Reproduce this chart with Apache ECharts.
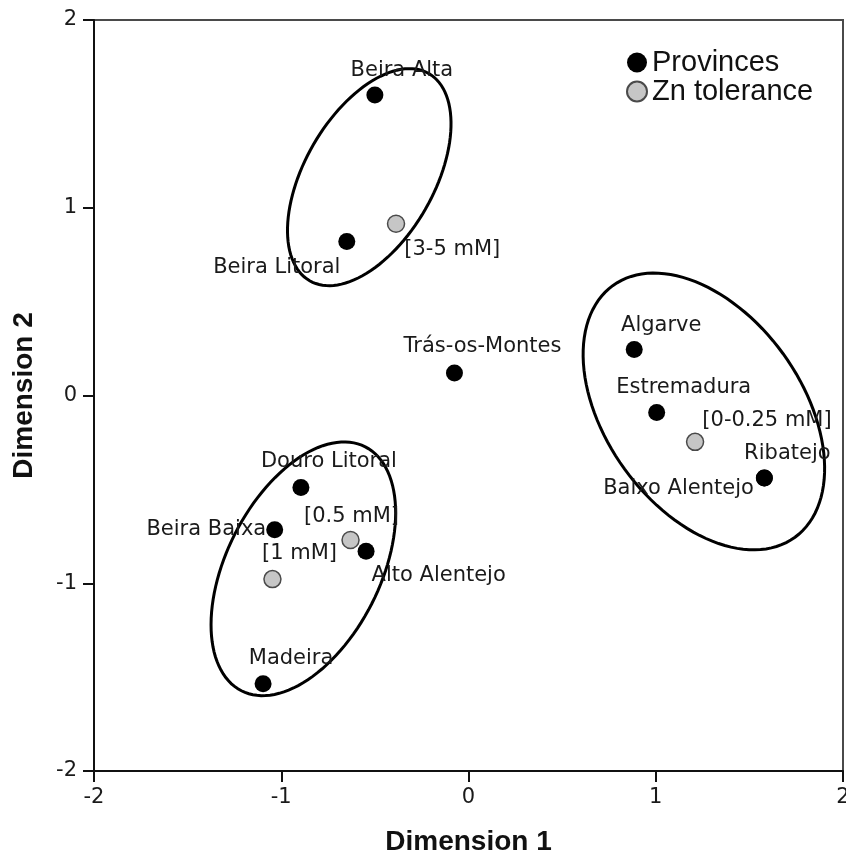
<!DOCTYPE html>
<html>
<head>
<meta charset="utf-8">
<script src="https://cdn.jsdelivr.net/npm/echarts@6/dist/echarts.min.js"></script>
<style>
  html, body { margin: 0; padding: 0; background: #fff; }
  #chart-container { width: 846px; height: 858px; }
</style>
</head>
<body>
<div id="chart-container"></div>
<script>
// provinces (black dots)
const provNames = ['Beira Alta', 'Beira Litoral', 'Trás-os-Montes', 'Algarve', 'Estremadura',
    'Ribatejo', 'Baixo Alentejo', 'Douro Litoral', 'Beira Baixa', 'Alto Alentejo', 'Madeira'];
const provX = [-0.50, -0.65, -0.075, 0.885, 1.005, 1.58, 1.58, -0.895, -1.035, -0.547, -1.097];
const provY = [1.60, 0.82, 0.12, 0.245, -0.09, -0.44, -0.44, -0.49, -0.715, -0.83, -1.535];

// Zn tolerance classes (grey dots)
const znNames = ['[3-5 mM]', '[0-0.25 mM]', '[0.5 mM]', '[1 mM]'];
const znX = [-0.387, 1.21, -0.63, -1.047];
const znY = [0.915, -0.247, -0.77, -0.978];

// group ellipses: centre x, centre y, semi axis a, semi axis b, angle (deg)
const ellCx = [-0.53, -0.882, 1.257];
const ellCy = [1.163, -0.923, -0.085];
const ellA = [0.637, 0.729, 0.828];
const ellB = [0.345, 0.41, 0.523];
const ellAngle = [60, 63, -54];

const axisTicks = [-2, -1, 0, 1, 2];

// label placement for each point (kept apart from the values)
const provLabelPos = [
    ['top', [27, -1]], ['bottom', [-70, 2]], ['top', [28, -2]], ['top', [27, 0]], ['top', [27, -1]],
    ['top', [23, -1]], ['left', [3, 10]], ['top', [28, -2]], ['left', [5, 0]], ['right', [-8, 24]],
    ['top', [28, -1]]
];
const znLabelPos = [['right', [-6, 26]], ['right', [-7, -21]], ['top', [1, 1]], ['top', [27, -1]]];

const labelFont = {fontFamily: 'DejaVu Sans', fontSize: 21, color: '#1a1a1a'};

function buildPoints(names, xs, ys, pos) {
    return names.map((n, i) => ({
        name: n,
        value: [xs[i], ys[i]],
        label: {position: pos[i][0], offset: pos[i][1]}
    }));
}

const chartDom = document.getElementById('chart-container');
const myChart = echarts.init(chartDom, null, {renderer: 'canvas'});

const option = {
    backgroundColor: '#fff',
    animation: false,
    grid: {
        left: 94, right: 3, top: 20, bottom: 87,
        show: true, borderColor: '#4a4a4a', borderWidth: 2,
        containLabel: false, outerBoundsMode: 'none'
    },
    legend: {
        data: ['Provinces', 'Zn tolerance'],
        orient: 'vertical',
        left: 621, top: 43,
        itemWidth: 20, itemHeight: 20, itemGap: 0,
        icon: 'circle',
        textStyle: {fontFamily: 'Liberation Sans', fontSize: 29, lineHeight: 28, color: '#111'}
    },
    xAxis: {
        type: 'value', min: -2, max: 2, interval: 1,
        name: 'Dimension 1', nameLocation: 'middle', nameGap: 57,
        nameTextStyle: {fontFamily: 'Liberation Sans', fontWeight: 'bold', fontSize: 28, color: '#111'},
        axisLine: {show: true, onZero: false, lineStyle: {color: '#111', width: 2}},
        axisTick: {show: true, length: 11, lineStyle: {color: '#111', width: 2}},
        axisLabel: {margin: 16, fontFamily: 'DejaVu Sans', fontSize: 21, color: '#1a1a1a',
            formatter: v => axisTicks.includes(v) ? String(v) : ''},
        splitLine: {show: false}
    },
    yAxis: {
        type: 'value', min: -2, max: 2, interval: 1,
        name: 'Dimension 2', nameLocation: 'middle', nameGap: 56, nameRotate: 90,
        nameTextStyle: {fontFamily: 'Liberation Sans', fontWeight: 'bold', fontSize: 28, color: '#111'},
        axisLine: {show: true, onZero: false, lineStyle: {color: '#111', width: 2}},
        axisTick: {show: true, length: 11, lineStyle: {color: '#111', width: 2}},
        axisLabel: {margin: 17, fontFamily: 'DejaVu Sans', fontSize: 21, color: '#1a1a1a',
            formatter: v => axisTicks.includes(v) ? String(v) : ''},
        splitLine: {show: false}
    },
    series: [
        {
            // the three group ellipses
            type: 'custom',
            name: 'groups',
            silent: true,
            z: 1,
            dimensions: ['cx', 'cy', 'a', 'b', 'ang'],
            encode: {x: 0, y: 1},
            data: ellCx.map((c, i) => [c, ellCy[i], ellA[i], ellB[i], ellAngle[i]]),
            renderItem: function (params, api) {
                const c = api.coord([api.value(0), api.value(1)]);
                const unit = api.size([1, 1]);
                const a = api.value(2), b = api.value(3);
                const th = api.value(4) * Math.PI / 180;
                const pts = [];
                for (let k = 0; k < 120; k++) {
                    const t = k / 120 * Math.PI * 2;
                    const dx = a * Math.cos(t) * Math.cos(th) - b * Math.sin(t) * Math.sin(th);
                    const dy = a * Math.cos(t) * Math.sin(th) + b * Math.sin(t) * Math.cos(th);
                    pts.push([c[0] + dx * unit[0], c[1] - dy * unit[1]]);
                }
                return {
                    type: 'polygon',
                    shape: {points: pts},
                    style: {fill: 'none', stroke: '#000', lineWidth: 3}
                };
            }
        },
        {
            type: 'scatter',
            name: 'Provinces',
            z: 3,
            symbol: 'circle',
            symbolSize: 17,
            itemStyle: {color: '#000', opacity: 1},
            label: {show: true, formatter: '{b}', distance: 5, ...labelFont},
            data: buildPoints(provNames, provX, provY, provLabelPos)
        },
        {
            type: 'scatter',
            name: 'Zn tolerance',
            z: 4,
            symbol: 'circle',
            symbolSize: 17,
            itemStyle: {color: '#c6c6c6', borderColor: '#4a4a4a', borderWidth: 1.5, opacity: 1},
            label: {show: true, formatter: '{b}', distance: 5, ...labelFont},
            data: buildPoints(znNames, znX, znY, znLabelPos)
        }
    ]
};

option && myChart.setOption(option, true);
</script>
</body>
</html>
